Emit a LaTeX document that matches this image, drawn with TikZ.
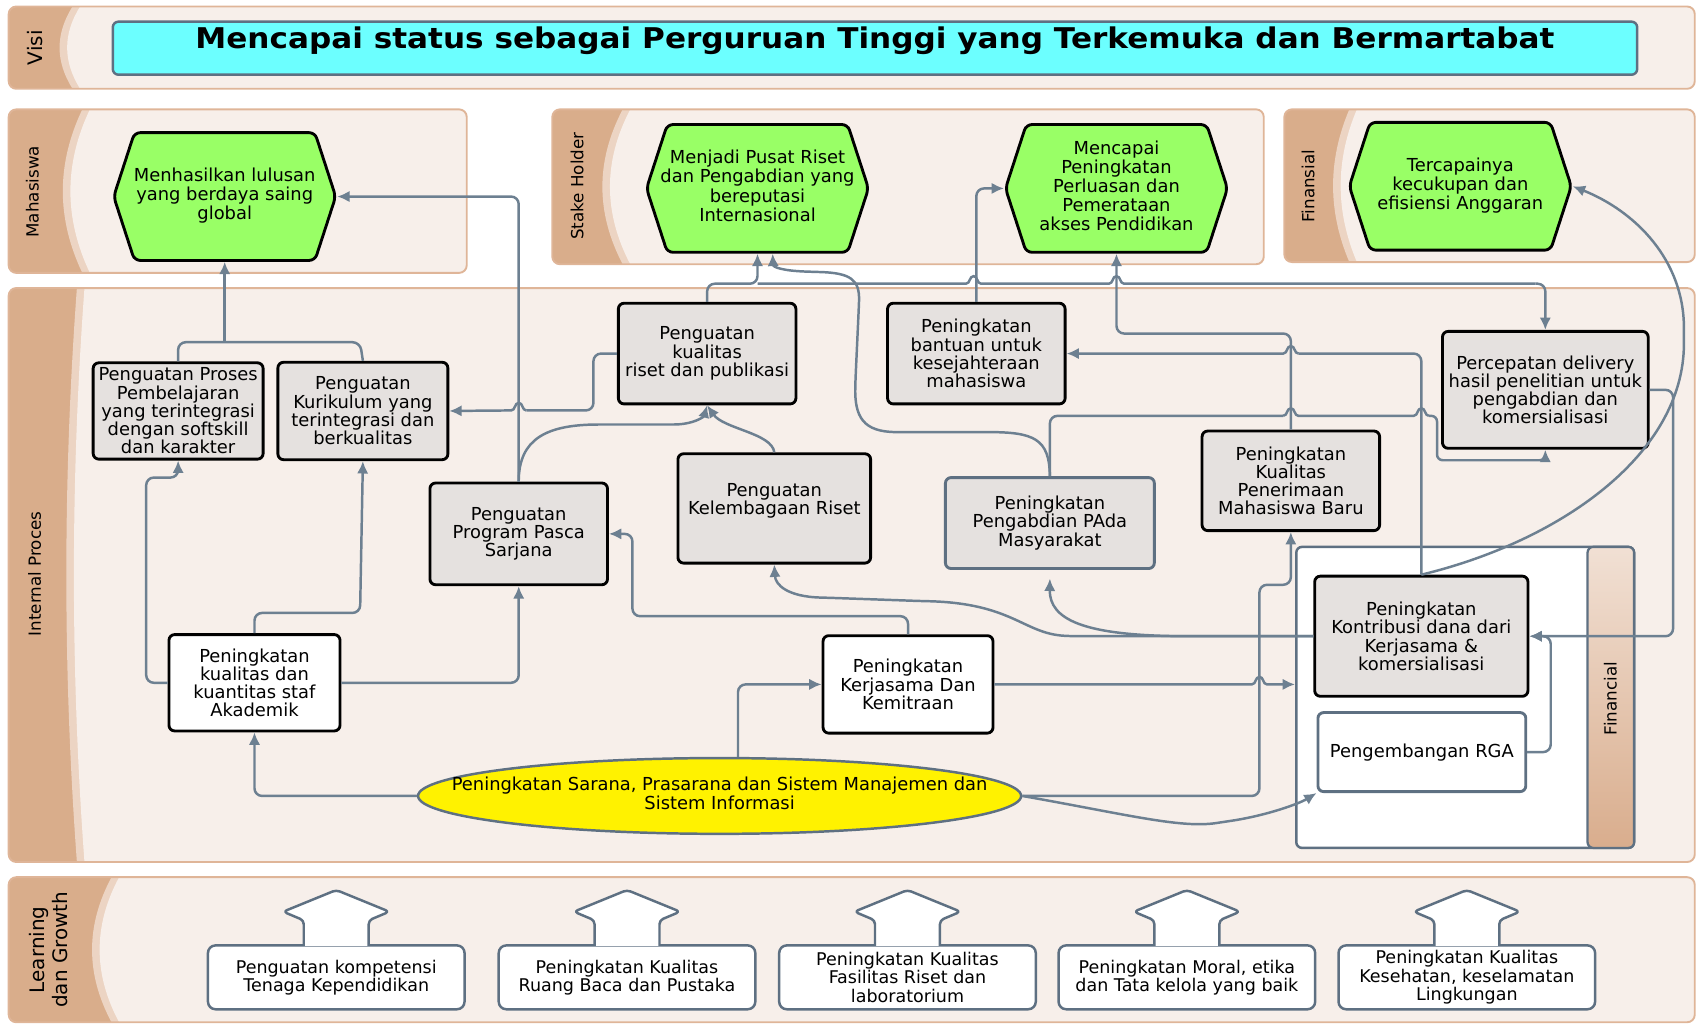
\documentclass[tikz,border=0pt]{standalone}
\usepackage{fontspec}
\setmainfont{DejaVu Sans}
\newfontfamily\titlefont[FakeStretch=1.09]{DejaVu Sans}
\usetikzlibrary{positioning, arrows.meta, shapes.geometric, shapes.symbols, calc}
\definecolor{lanebg}{HTML}{F7EFEA}
\definecolor{laneline}{HTML}{DFB598}
\definecolor{lanetab}{HTML}{D9AD8B}
\definecolor{lanestripe}{HTML}{ECD4C3}
\definecolor{linkc}{HTML}{6D8091}
\definecolor{boxgray}{HTML}{E5E1DF}
\definecolor{hexgreen}{HTML}{99FF66}
\definecolor{visicyan}{HTML}{6CFFFF}
\definecolor{slate}{HTML}{5E7082}
\definecolor{fintop}{HTML}{F1E0D4}
\definecolor{finbot}{HTML}{D9AD8D}
% lajur: x1 y1 x2 y2, tepi tab atas, kontrol lengkung
\newcommand{\lane}[6]{%
  \begin{scope}
    \clip[rounded corners=4pt] (#1,#2) rectangle (#3,#4);
    \fill[lanetab] (#1,#2) rectangle (#3,#4);
    \fill[lanestripe] (#5,#2) .. controls (#6,{#2+(#4-#2)/3}) and (#6,{#4-(#4-#2)/3}) .. (#5,#4) -- (#3,#4) -- (#3,#2) -- cycle;
    \fill[lanebg] ({#5+7},#2) .. controls ({#6+7},{#2+(#4-#2)/3}) and ({#6+7},{#4-(#4-#2)/3}) .. ({#5+7},#4) -- (#3,#4) -- (#3,#2) -- cycle;
  \end{scope}
  \draw[laneline, line width=1pt, rounded corners=4pt] (#1,#2) rectangle (#3,#4);}
% lompatan garis di titik silang (x,y): ke kanan / ke kiri
\newcommand{\hopR}[2]{.. controls ({#1-3},#2) and ({#1-4},{#2-7}) .. (#1,{#2-7}) .. controls ({#1+4},{#2-7}) and ({#1+3},#2) .. ({#1+7},#2)}
\newcommand{\hopL}[2]{.. controls ({#1+3},#2) and ({#1+4},{#2-7}) .. (#1,{#2-7}) .. controls ({#1-4},{#2-7}) and ({#1-3},#2) .. ({#1-7},#2)}
\newcommand{\hx}[1]{\makebox[0pt]{\begin{tabular}{@{}c@{}}#1\end{tabular}}}
\newcommand{\lgarrow}[1]{%
  \filldraw[lgarrowst] ($(#1.north)+(-30,1.5)$) -- ++(0,-23.5) -- ++(-19,-8) -- ++(49,-20) -- ++(49,20) -- ++(-19,8) -- ++(0,23.5);}

\begin{document}
\begin{tikzpicture}[
    x=0.02cm, y=-0.02cm,
    font=\fontsize{9.4}{9.6}\selectfont,
    lanelabel/.style={rotate=90, font=\fontsize{8.8}{9}\selectfont, inner sep=0pt},
    titlebox/.style={
      rectangle, rounded corners=3pt,
      draw=slate, line width=1.3pt, fill=visicyan,
      minimum width=28.16cm, minimum height=0.98cm, inner sep=1pt,
      text height=0.4cm, text depth=0.4cm,
      font=\titlefont\fontsize{15}{16}\selectfont\bfseries
    },
    hexa/.style={
      signal, signal to=east and west, signal pointer angle=144,
      draw=black, line width=1.5pt, fill=hexgreen,
      rounded corners=3pt, inner sep=1pt,
      minimum width=4.1cm, minimum height=2.36cm
    },
    proc/.style={
      rectangle, rounded corners=3pt,
      draw=black, line width=1.5pt,
      fill=boxgray, align=center, inner sep=1pt
    },
    procw/.style={proc, fill=white},
    sarana/.style={
      ellipse, draw=slate, line width=1.3pt, fill=yellow,
      minimum width=11.14cm, minimum height=1.4cm, inner sep=0pt
    },
    fincont/.style={
      rectangle, rounded corners=3pt, draw=slate, line width=1.3pt,
      fill=white, minimum width=6.24cm, minimum height=5.56cm
    },
    lgbox/.style={
      rectangle, rounded corners=4pt,
      draw=slate, line width=1.3pt, fill=white, align=center,
      minimum width=4.74cm, minimum height=1.18cm, inner sep=1pt,
      font=\fontsize{9.2}{9.6}\selectfont
    },
    lgarrowst/.style={draw=slate, fill=white, line width=1.3pt, rounded corners=2pt, line join=round},
    arr/.style={->, >={Latex[length=6.5pt,width=6pt]}, line width=1.3pt, color=linkc, rounded corners=4pt},
    line/.style={line width=1.3pt, color=linkc, rounded corners=4pt}
  ]
  \useasboundingbox (0,0) rectangle (1568,946);
  % Lajur
  \lane{8}{6}{1565}{82}{67}{51}
  \lane{8}{101}{431}{252}{76}{52}
  \lane{510}{101}{1167}{244}{575}{550}
  \lane{1186}{101}{1565}{242}{1246}{1226}
  \lane{8}{266}{1565}{796}{71}{58}
  \lane{8}{810}{1565}{944}{103}{79}
  \node[lanelabel, font=\fontsize{10.5}{12}\selectfont] (lblvisi) at (32,44) {Visi};
  \node[lanelabel] (lblmhs) at (30,177) {Mahasiswa};
  \node[lanelabel] (lblstake) at (533,172) {Stake Holder};
  \node[lanelabel] (lblfin) at (1208,172) {Finansial};
  \node[lanelabel] (lblinternal) at (32,530) {Internal Proces};
  \node[lanelabel, align=center, font=\fontsize{10.5}{12}\selectfont] (lbllg) at (45,877) {Learning\\dan Growth};
  % Visi
  \node[titlebox] (visi) at (808,44.5) {Mencapai status sebagai Perguruan Tinggi yang Terkemuka dan Bermartabat};
  % Sasaran
  \node[hexa] (lulusan) at (207.5,181.5) {\hx{Menhasilkan lulusan\\yang berdaya saing\\global}};
  \node[hexa] (pusatriset) at (699.5,174) {\hx{Menjadi Pusat Riset\\dan Pengabdian yang\\bereputasi\\Internasional}};
  \node[hexa] (perluasan) at (1031,174) {\hx{Mencapai\\Peningkatan\\Perluasan dan\\Pemerataan\\akses Pendidikan}};
  \node[hexa] (anggaran) at (1348.5,172) {\hx{Tercapainya\\kecukupan dan\\efisiensi Anggaran}};
  % Kotak financial
  \node[fincont] (fin) at (1353,644) {};
  \draw[slate, line width=1.2pt, top color=fintop, bottom color=finbot, rounded corners=3pt] (1466,505) rectangle (1509,783);
  \node[lanelabel] (lblfinancial) at (1487,645) {Financial};
  % Proses internal
  \node[proc, minimum width=3.14cm, minimum height=1.78cm] (proses) at (164.5,379.5) {Penguatan Proses\\Pembelajaran\\yang terintegrasi\\dengan softskill\\dan karakter};
  \node[proc, minimum width=3.14cm, minimum height=1.8cm, right=0.22cm of proses] (kurikulum) {Penguatan\\Kurikulum yang\\terintegrasi dan\\berkualitas};
  \node[proc, minimum width=3.28cm, minimum height=1.86cm] (riset) at (653,326.5) {Penguatan\\kualitas\\riset dan publikasi};
  \node[proc, minimum width=3.28cm, minimum height=1.86cm, right=1.64cm of riset] (bantuan) {Peningkatan\\bantuan untuk\\kesejahteraan\\mahasiswa};
  \node[proc, minimum width=3.8cm, minimum height=2.16cm] (delivery) at (1427,360) {Percepatan delivery\\hasil penelitian untuk\\pengabdian dan\\komersialisasi};
  \node[proc, minimum width=3.28cm, minimum height=1.88cm] (pasca) at (479,493) {Penguatan\\Program Pasca\\Sarjana};
  \node[proc, minimum width=3.56cm, minimum height=2.02cm] (lembaga) at (715,469.5) {Penguatan\\Kelembagaan Riset\\\mbox{}};
  \node[proc, draw=slate, minimum width=3.86cm, minimum height=1.68cm] (pengabdian) at (969.5,483) {Peningkatan\\Pengabdian PAda\\Masyarakat};
  \node[proc, minimum width=3.28cm, minimum height=1.84cm] (penerimaan) at (1192,444) {Peningkatan\\Kualitas\\Penerimaan\\Mahasiswa Baru};
  \node[procw, minimum width=3.16cm, minimum height=1.78cm] (staf) at (235,630.5) {Peningkatan\\kualitas dan\\kuantitas staf\\Akademik};
  \node[procw, minimum width=3.14cm, minimum height=1.8cm] (kerjasama) at (838.5,632) {Peningkatan\\Kerjasama Dan\\Kemitraan};
  \node[sarana] (sarana) at (664.5,735) {\hx{Peningkatan Sarana, Prasarana dan Sistem Manajemen dan\\Sistem Informasi}};
  \node[proc, minimum width=3.94cm, minimum height=2.22cm] (kontribusi) at (1312.5,587.5) {Peningkatan\\Kontribusi dana dari\\Kerjasama \&\\komersialisasi};
  \node[procw, draw=slate, minimum width=3.84cm, minimum height=1.46cm] (rga) at (1313,694.5) {Pengembangan RGA};
  % Learning dan growth
  \node[lgbox] (lg1) at (310.5,902.5) {Penguatan kompetensi\\Tenaga Kependidikan};
  \node[lgbox] (lg2) at (579,902.5) {Peningkatan Kualitas\\Ruang Baca dan Pustaka};
  \node[lgbox] (lg3) at (838,902.5) {Peningkatan Kualitas\\Fasilitas Riset dan\\laboratorium};
  \node[lgbox] (lg4) at (1096,902.5) {Peningkatan Moral, etika\\dan Tata kelola yang baik};
  \node[lgbox] (lg5) at (1354.5,902.5) {Peningkatan Kualitas\\Kesehatan, keselamatan\\Lingkungan};
  \lgarrow{lg1}
  \lgarrow{lg2}
  \lgarrow{lg3}
  \lgarrow{lg4}
  \lgarrow{lg5}
  % Ke sasaran mahasiswa
  \draw[arr] (pasca.north) |- (lulusan.east);
  \draw[line] (proses.north) -- (164.5,316) -- (332.5,316) -- (kurikulum.north);
  \coordinate (jmhs) at (207.5,316);
  \draw[arr] (jmhs) -- (lulusan.south);
  % Antar proses
  \draw[line] (riset.west) -- (548,326.5) -- (548,379) -- (486,379);
  \draw[arr, sharp corners] (486,379) \hopL{479}{379} -- (kurikulum.east);
  \draw[arr] (staf.west) -- (135,630.5) -- (135,441) -- (164.5,441) -- (proses.south);
  \draw[arr] (staf.north) -- (235,566) -- (332.5,566) -- (kurikulum.south);
  \draw[arr] (staf.east) -| (pasca.south);
  \draw[arr] (sarana.west) -| (staf.south);
  \draw[arr] ([xshift=0.34cm]sarana.north) |- (kerjasama.west);
  \draw[arr] (kerjasama.north) -- (838.5,569) -- (584,569) -- (584,493) -- (pasca.east);
  \draw[arr, sharp corners] (kerjasama.east) -- (1156,632) \hopR{1163}{632} -- (kerjasama.east -| fin.west);
  \draw[arr] (pasca.north) .. controls (479,405) and (505,392) .. (560,392) -- (615,392) .. controls (640,392) and (650,385) .. (riset.south);
  \draw[arr] (lembaga.north) .. controls (713,400) and (668,396) .. (riset.south);
  % Ke sasaran stake holder
  \draw[arr] (riset.north) -- (653,262) -- (699.5,262) -- (pusatriset.south);
  \coordinate (jriset) at (699.5,262);
  \draw[line, sharp corners] (jriset) -- (892,262) \hopR{899}{262} -- (1024,262) \hopR{1031}{262} -- (1418,262);
  \draw[arr] (1418,262) -- (1427,262) -- (delivery.north);
  \draw[arr] (bantuan.north) |- (perluasan.west);
  \draw[arr] (pengabdian.north) .. controls (969,405) and (955,399) .. (905,399) -- (835,399) .. controls (797,399) and (789,385) .. (790,350) -- (793,285) .. controls (794,258) and (785,252) .. (750,251) .. controls (724,250) and (714,247) .. ([xshift=0.28cm]pusatriset.south);
  \draw[line] (pengabdian.north) -- (969.5,384) -- (1185,384);
  \draw[line, sharp corners] (1185,384) \hopR{1192}{384} -- (1305.5,384) \hopR{1312.5}{384};
  \draw[arr, rounded corners=3pt] (1319.5,384) -- (1327,384) -- (1327,425) -- (1427,425) -- (delivery.south);
  \draw[arr] (penerimaan.north) -- (1192,308) -- (1031,308) -- (perluasan.south);
  \draw[line] (kontribusi.north) -- (1312.5,326.5) -- (1199,326.5);
  \draw[arr, sharp corners] (1199,326.5) \hopL{1192}{326.5} -- (bantuan.east);
  % Financial
  \draw[arr] (delivery.east) -- (1545,360) -- (1545,587.5) -- (kontribusi.east);
  \draw[arr] (kontribusi.north) .. controls (1440,500) and (1555,420) .. (1555,310) .. controls (1555,240) and (1510,195) .. (anggaran.east);
  \draw[arr] (rga.east) -- (1432,694.5) -- (1432,587.5) -- (kontribusi.east);
  \draw[arr] (kontribusi.west) -- (1100,587.5) .. controls (1000,587) and (969,572) .. ([yshift=-0.16cm]pengabdian.south);
  \draw[arr] (kontribusi.west) -- (990,587.5) .. controls (945,585) and (935,557) .. (850,555) -- (765,552) .. controls (727,551) and (716,540) .. (lembaga.south);
  \draw[arr] (sarana.east) -- (1163,735) -- (1163,540) -- (1192,540) -- (penerimaan.south);
  \draw[arr] (sarana.east) .. controls (1040,752) and (1090,765) .. (1130,759) .. controls (1170,753) and (1200,742) .. (rga.south west);
\end{tikzpicture}
\end{document}
